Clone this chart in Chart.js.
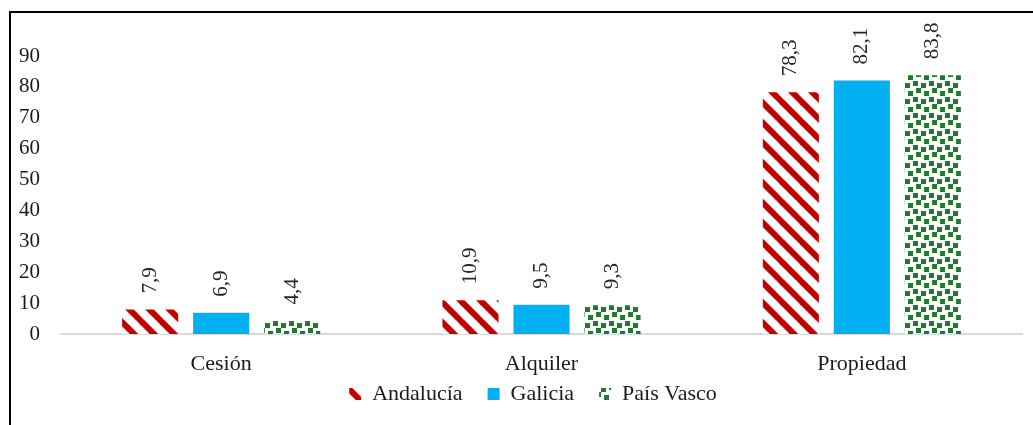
<!DOCTYPE html>
<html>
<head>
<meta charset="utf-8">
<script src="https://cdn.jsdelivr.net/npm/chart.js@4.4.1/dist/chart.umd.min.js"></script>
<style>
  html, body { margin: 0; padding: 0; background: #fff; }
  #wrap { position: absolute; left: 0; top: 0; width: 1033px; height: 425px; overflow: hidden; }
  #frame { position: absolute; left: 9px; top: 11px; width: 1100px; height: 500px; border-left: 2px solid #000; border-top: 2px solid #000; }
  canvas { position: absolute; left: 0; top: 0; }
</style>
</head>
<body>
<div id="wrap">
  <div id="frame"></div>
  <canvas id="c" width="1033" height="425"></canvas>
</div>
<script>
const categories = ['Cesión', 'Alquiler', 'Propiedad'];
const seriesNames = ['Andalucía', 'Galicia', 'País Vasco'];
const andalucia = [7.9, 10.9, 78.3];
const galicia = [6.9, 9.5, 82.1];
const paisVasco = [4.4, 9.3, 83.8];
const yTicks = [0, 10, 20, 30, 40, 50, 60, 70, 80, 90];

function stripePattern(color) {
  const s = 20;
  const c = document.createElement('canvas');
  c.width = s; c.height = s;
  const x = c.getContext('2d');
  x.fillStyle = '#fff';
  x.fillRect(0, 0, s, s);
  x.strokeStyle = color;
  x.lineWidth = 6;
  for (let k = -1; k <= 1; k++) {
    x.beginPath();
    x.moveTo(k * s - 2, -2);
    x.lineTo(k * s + s + 2, s + 2);
    x.stroke();
  }
  return x.createPattern(c, 'repeat');
}
function confettiPattern(color) {
  const s = 16;
  const c = document.createElement('canvas');
  c.width = s; c.height = s;
  const x = c.getContext('2d');
  x.fillStyle = '#fff';
  x.fillRect(0, 0, s, s);
  x.fillStyle = color;
  const sq = [[1,1],[9,3],[4,8],[12,11]];
  const w = 5;
  sq.forEach(p => {
    for (const dx of [-s, 0]) for (const dy of [-s, 0]) x.fillRect(p[0] + dx, p[1] + dy, w, w);
  });
  return x.createPattern(c, 'repeat');
}

const red = '#C00000', blue = '#00B0F0', green = '#1E7A2C';
const fills = [stripePattern(red), blue, confettiPattern(green)];
const values = [andalucia, galicia, paisVasco];

const labelPlugin = {
  id: 'barLabels',
  afterDatasetsDraw(chart) {
    const ctx = chart.ctx;
    ctx.save();
    ctx.fillStyle = '#262626';
    ctx.font = '21px "Liberation Serif", serif';
    ctx.textAlign = 'left';
    ctx.textBaseline = 'middle';
    chart.data.datasets.forEach((ds, i) => {
      const meta = chart.getDatasetMeta(i);
      meta.data.forEach((el, j) => {
        const txt = ds.data[j].toFixed(1).replace('.', ',');
        ctx.save();
        ctx.translate(el.x, el.y - 16);
        ctx.rotate(-Math.PI / 2);
        ctx.fillText(txt, 0, 0);
        ctx.restore();
      });
    });
    ctx.restore();
  }
};

const legendShift = {
  id: 'legendShift',
  afterLayout(chart) {
    const lg = chart.legend;
    if (!lg) return;
    lg.top -= 20; lg.bottom -= 20;
    lg.left += 22; lg.right += 22;
  }
};

const serif = '"Liberation Serif", "Times New Roman", serif';
new Chart(document.getElementById('c'), {
  type: 'bar',
  data: {
    labels: categories,
    datasets: seriesNames.map((n, i) => ({
      label: n,
      data: values[i],
      backgroundColor: fills[i],
      borderWidth: 0,
      categoryPercentage: 0.665,
      barPercentage: 0.79
    }))
  },
  options: {
    responsive: false,
    animation: false,
    devicePixelRatio: 1,
    layout: { padding: { top: 56, right: 11, left: 0, bottom: 0 } },
    plugins: {
      legend: {
        position: 'bottom',
        maxHeight: 47,
        labels: {
          boxWidth: 12, boxHeight: 12, padding: 25,
          color: '#1a1a1a',
          font: { family: serif, size: 22 }
        }
      },
      tooltip: { enabled: false }
    },
    scales: {
      x: {
        grid: { display: false, drawTicks: false },
        border: { display: true, color: '#D9D9D9', width: 2 },
        ticks: { color: '#1a1a1a', padding: 17, font: { family: serif, size: 22 } },
        afterFit(s) { s.height = 44; }
      },
      y: {
        min: 0, max: 90,
        grid: { display: false, drawTicks: false },
        border: { display: false },
        afterBuildTicks(s) { s.ticks = yTicks.map(v => ({ value: v })); },
        ticks: { color: '#1a1a1a', padding: 21, font: { family: serif, size: 21 } },
        afterFit(s) { s.width = 61; }
      }
    }
  },
  plugins: [labelPlugin, legendShift]
});
</script>
</body>
</html>
